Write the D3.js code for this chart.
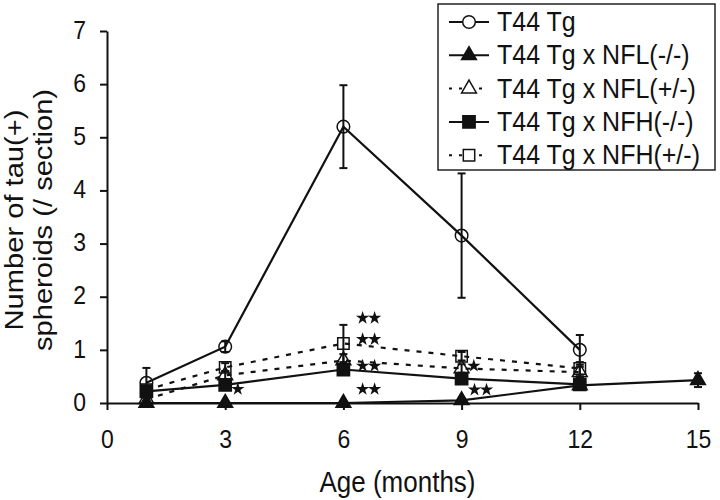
<!DOCTYPE html>
<html>
  <head>
    <meta http-equiv="Content-Type" content="text/html;charset=utf-8">
    <title>Tau spheroids</title>
    <script src="https://cdn.jsdelivr.net/npm/d3@7"></script>
    <style type="text/css">
body {
    margin: 0;
    background: #fff;
}
svg text {
    font-family: "Liberation Sans", Arial, sans-serif;
    fill: #111;
}
.axis path, .axis line {
    stroke: #111;
    stroke-width: 2px;
}
    </style>
  </head>
  <body>
    <script type="text/javascript">
// data
var months = [1, 3, 6, 9, 12, 15];
var xTicks = [0, 3, 6, 9, 12, 15];
var yTicks = [0, 1, 2, 3, 4, 5, 6, 7];

var t44 = [0.38, 1.06, 5.2, 3.15, 1.0];
var t44Err = [0.28, 0.1, 0.78, 1.17, 0.28];
var nflKO = [0, 0, 0, 0.05, 0.33, 0.43];
var nflKOErr = [0.02, 0.02, 0.02, 0.03, 0.05, 0.13];
var nflHet = [0.07, 0.52, 0.8, 0.65, 0.58];
var nflHetErr = [0.05, 0.08, 0.12, 0.08, 0.1];
var nfhKO = [0.22, 0.34, 0.63, 0.46, 0.35];
var nfhKOErr = [0.06, 0.06, 0.08, 0.06, 0.08];
var nfhHet = [0.25, 0.67, 1.12, 0.88, 0.65];
var nfhHetErr = [0.08, 0.08, 0.35, 0.08, 0.12];

var labels = ['T44 Tg', 'T44 Tg x NFL(-/-)', 'T44 Tg x NFL(+/-)', 'T44 Tg x NFH(-/-)', 'T44 Tg x NFH(+/-)'];

// significance marks: month, value, number of stars
var starMonth = [6.64, 6.64, 6.64, 6.64, 3.32, 9.31, 9.48];
var starValue = [1.6, 1.2, 0.7, 0.26, 0.26, 0.7, 0.25];
var starCount = [2, 2, 2, 2, 1, 1, 2];

var series = [
    {name: labels[0], vals: t44, err: t44Err, shape: d3.symbolCircle, size: 125, fill: '#fff', dash: null},
    {name: labels[1], vals: nflKO, err: nflKOErr, shape: d3.symbolTriangle, size: 95, fill: '#111', dash: null},
    {name: labels[2], vals: nflHet, err: nflHetErr, shape: d3.symbolTriangle, size: 95, fill: '#fff', dash: '5,7'},
    {name: labels[3], vals: nfhKO, err: nfhKOErr, shape: d3.symbolSquare, size: 150, fill: '#111', dash: null},
    {name: labels[4], vals: nfhHet, err: nfhHetErr, shape: d3.symbolSquare, size: 130, fill: '#fff', dash: '5,7'}
];

var W = 720, H = 500,
    stretch = 1.12;   // the figure's lettering is slightly taller than wide

var svg = d3.select('body').append('svg')
    .attr('width', W)
    .attr('height', H);

var x = d3.scaleLinear().domain([0, 15]).range([107, 698]);
var y = d3.scaleLinear().domain([0, 7]).range([403, 31]);

// axes
svg.append('g')
    .attr('class', 'axis')
    .attr('transform', 'translate(0,' + y(0) + ')')
    .call(d3.axisBottom(x).tickValues(xTicks).tickFormat(d3.format('d')).tickSize(7).tickSizeOuter(0).tickPadding(20))
    .selectAll('text')
    .style('font-size', '23px')
    .attr('y', 27 / stretch)
    .attr('transform', 'scale(1,' + stretch + ')');

svg.append('g')
    .attr('class', 'axis')
    .attr('transform', 'translate(' + x(0) + ',0)')
    .call(d3.axisLeft(y).tickValues(yTicks).tickFormat(d3.format('d')).tickSize(7).tickSizeOuter(0).tickPadding(14))
    .selectAll('text')
    .style('font-size', '23px')
    .attr('dy', '0.28em')
    .attr('transform', 'scale(1,' + stretch + ')');

svg.selectAll('.axis .domain').attr('fill', 'none');

svg.append('text')
    .attr('transform', 'translate(' + ((x(0) + x(15)) / 2 - 5) + ',492) scale(1,' + stretch + ')')
    .attr('text-anchor', 'middle')
    .style('font-size', '26px')
    .text('Age (months)');

var yt = svg.append('text')
    .attr('transform', 'translate(23,220) rotate(-90) scale(' + stretch + ',1)')
    .attr('text-anchor', 'middle')
    .style('font-size', '26px');
yt.append('tspan').attr('x', 0).attr('dy', 0).text('Number of tau(+)');
yt.append('tspan').attr('x', 0).attr('dy', 29).text('spheroids (/ section)');

// series
var line = d3.line()
    .x(function(d, i) { return x(months[i]); })
    .y(function(d) { return y(d); });

series.forEach(function(s) {
    var g = svg.append('g');
    g.append('path')
        .datum(s.vals)
        .attr('d', line)
        .attr('fill', 'none')
        .attr('stroke', '#111')
        .attr('stroke-width', 2.2)
        .attr('stroke-dasharray', s.dash);

    var eb = g.selectAll('g.err')
        .data(s.vals)
      .enter().append('g')
        .attr('class', 'err');
    eb.append('line')
        .attr('x1', function(d, i) { return x(months[i]); })
        .attr('x2', function(d, i) { return x(months[i]); })
        .attr('y1', function(d, i) { return y(d - s.err[i]); })
        .attr('y2', function(d, i) { return y(d + s.err[i]); })
        .attr('stroke', '#111')
        .attr('stroke-width', 2);
    [1, -1].forEach(function(sign) {
        eb.append('line')
            .attr('x1', function(d, i) { return x(months[i]) - 4; })
            .attr('x2', function(d, i) { return x(months[i]) + 4; })
            .attr('y1', function(d, i) { return y(d + sign * s.err[i]); })
            .attr('y2', function(d, i) { return y(d + sign * s.err[i]); })
            .attr('stroke', '#111')
            .attr('stroke-width', 2);
    });

    g.selectAll('path.pt')
        .data(s.vals)
      .enter().append('path')
        .attr('class', 'pt')
        .attr('d', d3.symbol().type(s.shape).size(s.size))
        .attr('transform', function(d, i) { return 'translate(' + x(months[i]) + ',' + y(d) + ')'; })
        .attr('fill', s.fill)
        .attr('fill-opacity', s.fill == '#fff' ? 0 : 1)
        .attr('stroke', '#111')
        .attr('stroke-width', 1.5);
});

// stars
var star = d3.symbol().type(d3.symbolStar).size(55);
starMonth.forEach(function(m, i) {
    for (var k = 0; k < starCount[i]; k++) {
        var off = (k - (starCount[i] - 1) / 2) * 12;
        svg.append('path')
            .attr('d', star)
            .attr('transform', 'translate(' + (x(m) + off) + ',' + y(starValue[i]) + ')')
            .attr('fill', '#111');
    }
});

// legend
var lg = svg.append('g').attr('transform', 'translate(438,4)');
lg.append('rect')
    .attr('width', 277)
    .attr('height', 166)
    .attr('fill', '#fff')
    .attr('stroke', '#222')
    .attr('stroke-width', 1.5);

var rows = lg.selectAll('g.row')
    .data(series)
  .enter().append('g')
    .attr('class', 'row')
    .attr('transform', function(d, i) { return 'translate(0,' + (18 + i * 33.3) + ')'; });
rows.append('line')
    .attr('x1', 11)
    .attr('x2', 51)
    .attr('stroke', '#111')
    .attr('stroke-width', 2)
    .attr('stroke-dasharray', function(d) { return d.dash ? '3,7' : null; });
rows.append('path')
    .attr('d', function(d) { return d3.symbol().type(d.shape).size(d.size)(); })
    .attr('transform', 'translate(31,0)')
    .attr('fill', function(d) { return d.fill; })
    .attr('stroke', '#111')
    .attr('stroke-width', 1.5);
rows.append('text')
    .attr('transform', 'translate(59,9) scale(1,' + stretch + ')')
    .style('font-size', '25px')
    .text(function(d) { return d.name; });
    </script>
  </body>
</html>
